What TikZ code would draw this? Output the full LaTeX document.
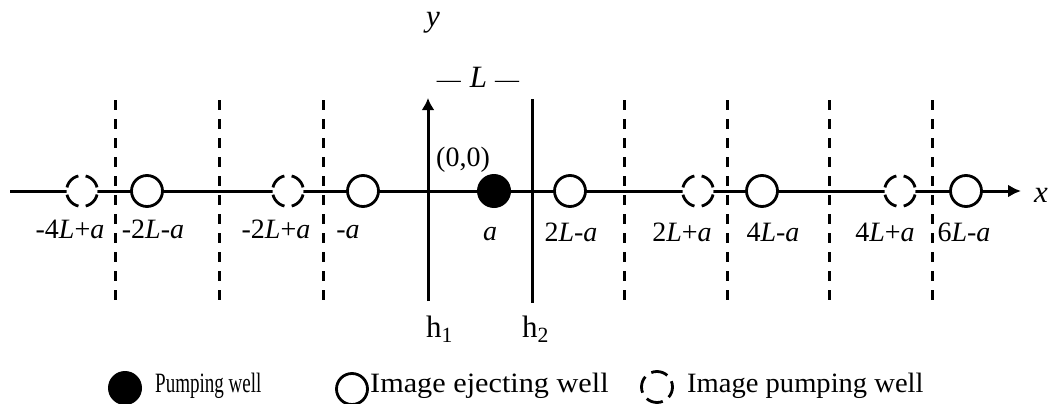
\documentclass[tikz,border=0pt]{standalone}
\usepackage{fontspec}
\setmainfont{Liberation Serif}
\usepackage{graphicx}
\usetikzlibrary{arrows.meta}
\begin{document}
\begin{tikzpicture}[x=1pt,y=-1pt,
  axisline/.style={line width=3pt},
  wellP/.style={circle,fill=black,minimum size=34pt,inner sep=0pt},
  wellE/.style={circle,draw,line width=2.8pt,fill=white,minimum size=31pt,inner sep=0pt},
  wellI/.style={wellE,dash pattern=on 17pt off 7.35pt,dash phase=20.7pt},
  bnd/.style={line width=3pt,dash pattern=on 10pt off 9pt},
  lab/.style={font=\fontsize{28}{30}\selectfont,inner sep=0pt,anchor=base},
  big/.style={font=\fontsize{31}{33}\selectfont,inner sep=0pt,anchor=base},
  leg/.style={font=\fontsize{28}{30}\selectfont,inner sep=0pt,anchor=base west}]
\useasboundingbox (0,0) rectangle (1052,404);

% dashed boundaries
\foreach \n/\x in {b1/115,b2/219,b3/323,b4/624,b5/727,b6/829,b7/932}{
  \coordinate (\n-t) at (\x,100);
  \coordinate (\n-b) at (\x,300);
  \draw[bnd] (\n-t) -- (\n-b);
}

% x axis
\coordinate (xs) at (10,191);
\coordinate (xe) at (1021,191);
\draw[axisline,-{Latex[length=13pt,width=13pt]}] (xs) -- (xe);
\node[big] (xl) at (1041,202) {\textit{x}};

% y axis (h1) and h2
\coordinate (ys) at (428,301);
\coordinate (ye) at (428,98);
\draw[axisline,-{Latex[length=12pt,width=13pt]}] (ys) -- (ye);
\node[big] (yl) at (433,27) {\textit{y}};
\coordinate (h2t) at (532,99);
\coordinate (h2b) at (532,303);
\draw[axisline] (h2t) -- (h2b);

\node[big,anchor=base west] (h1l) at (426,337) {h\textsubscript{1}};
\node[big,anchor=base west] (h2l) at (522,337) {h\textsubscript{2}};

\node[big] (Ll) at (478,88) {{\fontsize{24}{26}\selectfont\textemdash}\hspace{9pt}\textit{L}\hspace{8pt}{\fontsize{24}{26}\selectfont\textemdash}};
\node[lab] (orig) at (463,166) {(0,0)};

% wells
\node[wellI] (w1) at (82,191) {};
\node[wellE] (w2) at (147,191) {};
\node[wellI] (w3) at (288,191) {};
\node[wellE] (w4) at (363,191) {};
\node[wellP] (w5) at (494,191) {};
\node[wellE] (w6) at (570,191) {};
\node[wellI] (w7) at (698,191) {};
\node[wellE] (w8) at (762,191) {};
\node[wellI] (w9) at (900,191) {};
\node[wellE] (w10) at (966,191) {};

% labels
\node[lab] (l1) at (70,238) {-4\textit{L}+\textit{a}};
\node[lab] (l2) at (153,238) {-2\textit{L}-\textit{a}};
\node[lab] (l3) at (276,238) {-2\textit{L}+\textit{a}};
\node[lab] (l4) at (348,238) {-\textit{a}};
\node[lab] (l5) at (490,240) {\textit{a}};
\node[lab] (l6) at (571,241) {2\textit{L}-\textit{a}};
\node[lab] (l7) at (682,241) {2\textit{L}+\textit{a}};
\node[lab] (l8) at (773,241) {4\textit{L}-\textit{a}};
\node[lab] (l9) at (885,241) {4\textit{L}+\textit{a}};
\node[lab] (l10) at (964,241) {6\textit{L}-\textit{a}};

% legend
\node[wellP] (gP) at (125,388) {};
\node[leg] (tP) at (155,392) {\scalebox{0.68}[1]{Pumping well}};
\node[wellE] (gE) at (352,389) {};
\node[leg] (tE) at (370,392) {\scalebox{1.08}[1]{Image ejecting well}};
\node[wellI,rotate=35] (gI) at (657,387) {};
\node[leg] (tI) at (687,392) {\scalebox{1.02}[1]{Image pumping well}};
\end{tikzpicture}
\end{document}
